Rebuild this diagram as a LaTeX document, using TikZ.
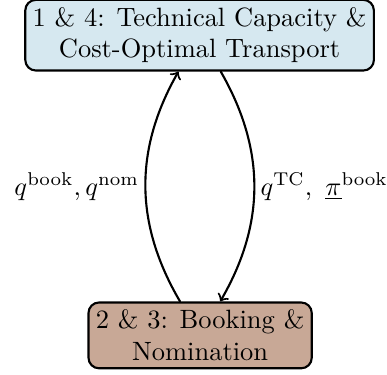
\documentclass[tikz,border=0pt]{standalone}
\usetikzlibrary{positioning}
\definecolor{capblue}{RGB}{214,232,240}
\definecolor{bookbrown}{RGB}{200,168,150}
\begin{document}
\begin{tikzpicture}[line cap=round, line join=round, x=1pt, y=1pt]
  \tikzset{
    stage/.style={draw, thick, rounded corners=4pt, align=center, inner sep=2.8pt},
    flow/.style={->, thick, bend left=30},
  }
  \useasboundingbox (0,0) rectangle (146.2,141.5);

  % the two stages
  \node[stage, fill=capblue] (tc) at (75.4,128.2) {1 \& 4: Technical Capacity \&\\Cost-Optimal Transport};
  \node[stage, fill=bookbrown] (bn) at (75.6,14.8) {2 \& 3: Booking \&\\Nomination};

  % exchanged quantities
  \draw[flow] ([xshift=-7.6pt]bn.north) to node[left, inner sep=2pt] {$q^{\mathrm{book}}, q^{\mathrm{nom}}$} ([xshift=-8pt]tc.south);
  \draw[flow] ([xshift=8pt]tc.south) to node[right, inner sep=2pt] {$q^{\mathrm{TC}},\ \underline{\pi}^{\mathrm{book}}$} ([xshift=7.6pt]bn.north);
\end{tikzpicture}
\end{document}
